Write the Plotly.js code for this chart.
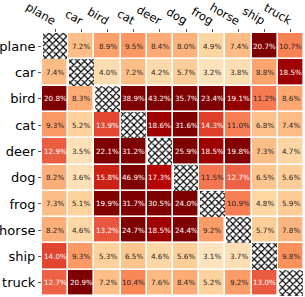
<!DOCTYPE html>
<html>
<head>
<meta charset="utf-8">
<script src="https://cdn.plot.ly/plotly-3.0.1.min.js"></script>
<style>html,body{margin:0;padding:0;background:#fff;}#chart{width:305px;height:297px;}</style>
</head>
<body>
<div id="chart"></div>
<script>
const classes = ["plane","car","bird","cat","deer","dog","frog","horse","ship","truck"];
const rowPlane = [null,7.2,8.9,9.5,8.4,8.0,4.9,7.4,20.7,10.7];
const rowCar   = [7.4,null,4.0,7.2,4.2,5.7,3.2,3.8,8.8,18.5];
const rowBird  = [20.8,8.3,null,38.9,43.2,35.7,23.4,19.1,11.2,8.6];
const rowCat   = [9.3,5.2,13.9,null,18.6,31.6,14.3,11.0,6.8,7.4];
const rowDeer  = [12.9,3.5,22.1,31.2,null,25.9,18.5,19.8,7.3,4.7];
const rowDog   = [8.2,3.6,15.8,46.9,17.3,null,11.5,12.7,6.5,5.6];
const rowFrog  = [7.3,5.1,19.9,31.7,30.5,24.0,null,10.9,4.8,5.9];
const rowHorse = [8.2,4.6,13.2,24.7,18.5,24.4,9.2,null,5.7,7.8];
const rowShip  = [14.0,9.3,5.3,6.5,4.6,5.6,3.1,3.7,null,9.8];
const rowTruck = [12.7,20.9,7.2,10.4,7.6,8.4,5.2,9.2,13.0,null];
const z = [rowPlane,rowCar,rowBird,rowCat,rowDeer,rowDog,rowFrog,rowHorse,rowShip,rowTruck];

const idx = classes.map((_, i) => i);
const orrd = [
  [0.0,'#fff7ec'],[0.125,'#fee8c8'],[0.25,'#fdd49e'],[0.375,'#fdbb84'],
  [0.5,'#fc8d59'],[0.625,'#ef6548'],[0.75,'#d7301f'],[0.875,'#b30000'],[1.0,'#7f0000']
];

const heat = {
  type: 'heatmap', x: idx, y: idx, z: z,
  colorscale: orrd, zmin: 0, zmax: 20, showscale: false,
  xgap: 1.6, ygap: 1.6, hoverinfo: 'skip'
};

const hatch = {
  type: 'bar', x: idx, y: idx.map(() => 1), base: idx.map(i => i - 0.5),
  width: 0.94,
  marker: {color: '#ffffff', line: {width: 0},
           pattern: {shape: 'x', fgcolor: '#000000', bgcolor: '#ffffff', size: 5, solidity: 0.4}},
  hoverinfo: 'skip'
};

const annotations = [];
z.forEach((row, r) => row.forEach((v, c) => {
  if (v === null) return;
  annotations.push({
    x: c, y: r, xref: 'x', yref: 'y', showarrow: false,
    text: v.toFixed(1) + '%',
    font: {family: 'DejaVu Sans', size: 7.2, color: v >= 12 ? '#ffffff' : '#262626'}
  });
}));
classes.forEach((name, c) => {
  annotations.push({
    x: c, y: 1, xref: 'x', yref: 'paper', showarrow: false,
    text: name, textangle: 30, xanchor: 'right', yanchor: 'bottom',
    xshift: 5, yshift: 4, borderpad: 0,
    font: {family: 'DejaVu Sans', size: 11.5, color: '#000'}
  });
});

const layout = {
  width: 305, height: 297,
  margin: {l: 42, r: 1, t: 33, b: 1},
  paper_bgcolor: '#ffffff', plot_bgcolor: '#ffffff',
  showlegend: false, annotations: annotations,
  xaxis: {
    side: 'top', tickmode: 'array', tickvals: idx, ticktext: classes,
    showticklabels: false,
    range: [-0.5, 9.5], showgrid: false, zeroline: false, showline: false,
    ticks: 'outside', ticklen: 3, tickwidth: 1, tickcolor: '#555'
  },
  yaxis: {
    tickmode: 'array', tickvals: idx, ticktext: classes,
    range: [9.5, -0.5], showgrid: false, zeroline: false, showline: false,
    ticks: 'outside', ticklen: 3, tickwidth: 1, tickcolor: '#555',
    tickfont: {family: 'DejaVu Sans', size: 13, color: '#000'}
  },
  bargap: 0
};

Plotly.newPlot('chart', [heat, hatch], layout, {staticPlot: true, displayModeBar: false});
</script>
</body>
</html>
